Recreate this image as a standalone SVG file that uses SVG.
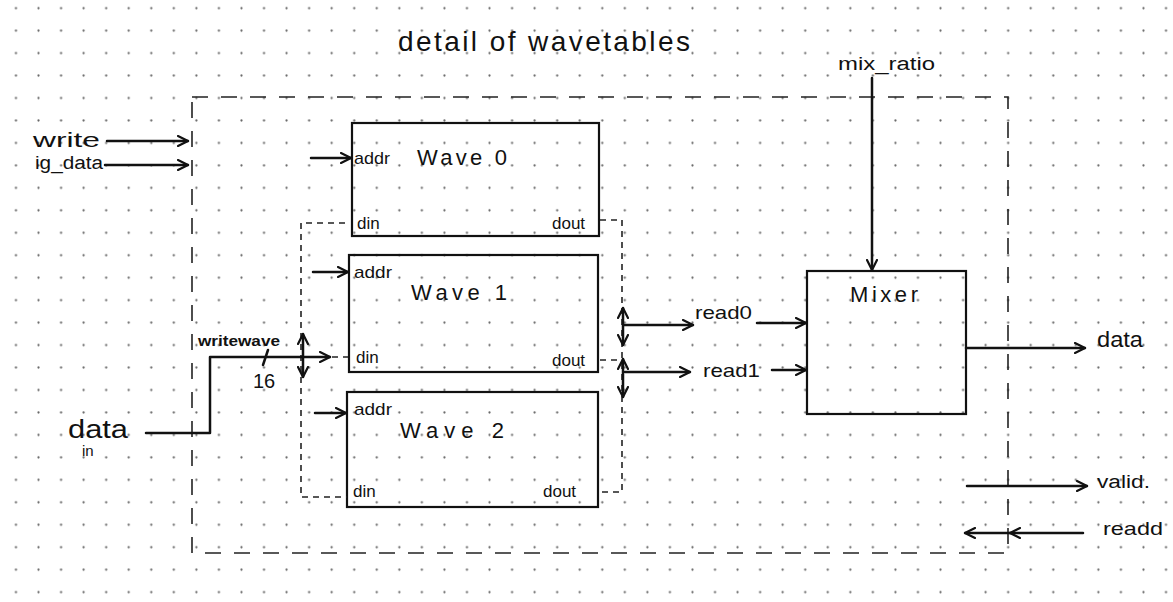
<svg xmlns="http://www.w3.org/2000/svg" width="1173" height="602" viewBox="0 0 1173 602">
  <defs>
    <pattern id="dots" patternUnits="userSpaceOnUse" x="4.7" y="-3.03" width="22.55" height="22.46">
      <circle cx="11.275" cy="11.23" r="1.1" fill="#666"/>
    </pattern>
    <marker id="arr" markerUnits="userSpaceOnUse" viewBox="0 0 12 12" refX="11" refY="6" markerWidth="12" markerHeight="12" orient="auto-start-reverse">
      <path d="M1,1 L11,6 L1,11" fill="none" stroke="#111" stroke-width="2.2" stroke-linecap="round" stroke-linejoin="round"/>
    </marker>
    <style>
      .t { font-family: "Liberation Sans", "DejaVu Sans", sans-serif; fill: #111; }
      .box { fill: none; stroke: #111; stroke-width: 2.2; }
      .w { fill: none; stroke: #111; stroke-width: 2.5; stroke-linecap: round; stroke-linejoin: round; }
      .dash { fill: none; stroke: #222; stroke-width: 1.6; stroke-dasharray: 16 13; }
      .bus { fill: none; stroke: #222; stroke-width: 1.6; stroke-dasharray: 6 5; }
      .lbl { font-size: 17px; }
      .nm { font-size: 22px; }
    </style>
  </defs>
  <rect x="0" y="0" width="1173" height="602" fill="#fff"/>
  <rect x="0" y="0" width="1173" height="602" fill="url(#dots)"/>

  <text class="t" x="398" y="51" font-size="28" textLength="292" lengthAdjust="spacing">detail of wavetables</text>

  <g id="wavetables">
    <rect class="dash" x="192" y="97" width="816" height="456"/>
  </g>

  <g id="wave0">
    <rect class="box" x="352" y="123" width="247" height="113"/>
    <text class="t lbl" x="354" y="164" textLength="36" lengthAdjust="spacingAndGlyphs">addr</text>
    <text class="t nm" x="417" y="165" textLength="90" lengthAdjust="spacing">Wave 0</text>
    <text class="t lbl" x="357" y="229">din</text>
    <text class="t lbl" x="552" y="229">dout</text>
  </g>
  <g id="wave1">
    <rect class="box" x="349" y="255" width="249" height="117"/>
    <text class="t lbl" x="354" y="278" textLength="38" lengthAdjust="spacingAndGlyphs">addr</text>
    <text class="t nm" x="411" y="300" textLength="96" lengthAdjust="spacing">Wave 1</text>
    <text class="t lbl" x="356" y="363">din</text>
    <text class="t lbl" x="552" y="366">dout</text>
  </g>
  <g id="wave2">
    <rect class="box" x="347" y="392" width="251" height="115"/>
    <text class="t lbl" x="354" y="415" textLength="38" lengthAdjust="spacingAndGlyphs">addr</text>
    <text class="t nm" x="400" y="438" textLength="104" lengthAdjust="spacing">Wave 2</text>
    <text class="t lbl" x="353" y="497">din</text>
    <text class="t lbl" x="543" y="497">dout</text>
  </g>
  <g id="mixer">
    <rect class="box" x="807" y="271" width="159" height="143"/>
    <text class="t nm" x="850" y="302" textLength="68" lengthAdjust="spacing">Mixer</text>
  </g>

  <g id="labels">
    <text class="t" x="33" y="147" font-size="20" textLength="67" lengthAdjust="spacingAndGlyphs">write</text>
    <text class="t" x="35" y="169" font-size="18" textLength="68" lengthAdjust="spacingAndGlyphs">ig_data</text>
    <text class="t" x="838" y="70" font-size="18" textLength="97" lengthAdjust="spacingAndGlyphs">mix_ratio</text>
    <text class="t" x="68" y="438" font-size="26" textLength="60" lengthAdjust="spacingAndGlyphs">data</text>
    <text class="t" x="82" y="456" font-size="15">in</text>
    <text class="t" x="198" y="346" font-size="15" font-weight="bold" textLength="82" lengthAdjust="spacingAndGlyphs">writewave</text>
    <text class="t" x="253" y="388" font-size="20">16</text>
    <text class="t" x="695" y="319" font-size="19" textLength="57" lengthAdjust="spacingAndGlyphs">read0</text>
    <text class="t" x="703" y="377" font-size="19" textLength="57" lengthAdjust="spacingAndGlyphs">read1</text>
    <text class="t" x="1097" y="347" font-size="22" textLength="46" lengthAdjust="spacingAndGlyphs">data</text>
    <text class="t" x="1097" y="488" font-size="18" textLength="53" lengthAdjust="spacingAndGlyphs">valid.</text>
    <text class="t" x="1103" y="535" font-size="19" textLength="60" lengthAdjust="spacingAndGlyphs">readd</text>
  </g>

  <g id="connectors">
    <path class="w" d="M107,141 H188" marker-end="url(#arr)"/>
    <path class="w" d="M105,165 H188" marker-end="url(#arr)"/>
    <path class="w" d="M311,158 H351" marker-end="url(#arr)"/>
    <path class="w" d="M313,272 H348" marker-end="url(#arr)"/>
    <path class="w" d="M315,413 H346" marker-end="url(#arr)"/>
    <path class="bus" d="M345,223 H301 V497 H347"/>
    <path class="bus" d="M600,220 H622 V492 H600"/>
    <path class="bus" d="M600,360 H622"/>
    <path class="bus" d="M332,357 H348"/>
    <path class="w" d="M146,433 H210 V357 H330" marker-end="url(#arr)"/>
    <path class="w" d="M268,350 L263,365"/>
    <path class="w" d="M303,334 V377" marker-start="url(#arr)" marker-end="url(#arr)"/>
    <path class="w" d="M623,308 V345" marker-start="url(#arr)" marker-end="url(#arr)"/>
    <path class="w" d="M624,325 H693" marker-end="url(#arr)"/>
    <path class="w" d="M623,359 V397" marker-start="url(#arr)" marker-end="url(#arr)"/>
    <path class="w" d="M625,372 H690" marker-end="url(#arr)"/>
    <path class="w" d="M757,323 H806" marker-end="url(#arr)"/>
    <path class="w" d="M772,370 H806" marker-end="url(#arr)"/>
    <path class="w" d="M872,78 V270" marker-end="url(#arr)"/>
    <path class="w" d="M966,348 H1085" marker-end="url(#arr)"/>
    <path class="w" d="M967,486 H1087" marker-end="url(#arr)"/>
    <path class="w" d="M1083,533 H1010" marker-end="url(#arr)"/>
    <path class="w" d="M1010,533 H965" marker-end="url(#arr)"/>
  </g>
</svg>
